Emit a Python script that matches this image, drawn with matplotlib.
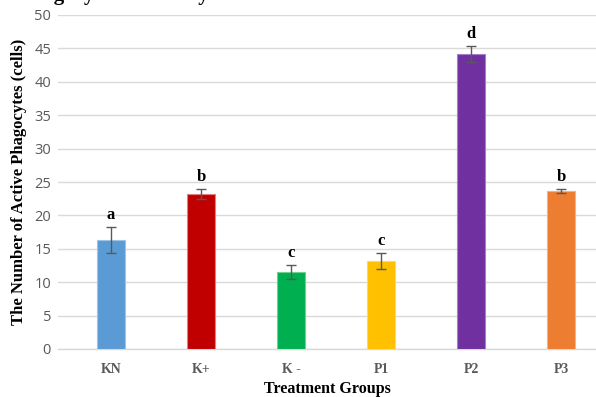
import matplotlib
matplotlib.use("Agg")
import matplotlib.pyplot as plt

groups = ["KN", "K+", "K -", "P1", "P2", "P3"]
values = [16.3, 23.2, 11.5, 13.2, 44.1, 23.7]
errors = [1.9, 0.7, 1.05, 1.2, 1.2, 0.3]
letters = ["a", "b", "c", "c", "d", "b"]
colors = ["#5B9BD5", "#C00000", "#00B050", "#FFC000", "#7030A0", "#ED7D31"]
edges = ["#9DC3E6", "#E08080", "#70D090", "#FFD966", "#A080C8", "#F4B183"]
yticks = [0, 5, 10, 15, 20, 25, 30, 35, 40, 45, 50]

fig = plt.figure(figsize=(5.96, 3.97), dpi=100)
W, H = 596, 397
left, right = 58, 596
y0, y50 = 349, 15
ax = fig.add_axes([left / W, 1 - y0 / H, (right - left) / W, (y0 - y50) / H])

x = list(range(len(groups)))
ax.bar(x, values, width=0.31, color=colors, edgecolor=edges, linewidth=0.8, zorder=3)
ax.errorbar(x, values, yerr=errors, fmt="none", ecolor="#595959", elinewidth=1.0,
            capsize=3.5, capthick=1.0, zorder=4)
for xi, v, e, l in zip(x, values, errors, letters):
    ax.annotate(l, (xi, v + e), xytext=(0, 3), textcoords="offset points",
                ha="center", va="bottom", fontsize=12, fontweight="bold",
                family="Liberation Serif", color="black")

xmin = -(111 - left) / 90
ax.set_xlim(xmin, xmin + (right - left) / 90)
ax.set_ylim(0, 50)
ax.set_yticks(yticks)
ax.yaxis.grid(True, color="#D9D9D9", linewidth=1.0, zorder=0)
ax.set_axisbelow(True)
for s in ["top", "right", "left"]:
    ax.spines[s].set_visible(False)
ax.spines["bottom"].set_color("#D9D9D9")
ax.spines["bottom"].set_linewidth(1.0)
ax.tick_params(axis="both", length=0)
ax.tick_params(axis="y", labelsize=10.5, labelcolor="#595959", pad=5)
for t in ax.get_yticklabels():
    t.set_family("Open Sans")
ax.set_xticks(x)
ax.set_xticklabels(groups, family="Liberation Serif", fontweight="bold",
                   fontsize=10, color="#595959")
ax.tick_params(axis="x", pad=10)

ax.set_ylabel("The Number of Active Phagocytes (cells)", family="Liberation Serif",
              fontweight="bold", fontsize=12, color="black", labelpad=5)
ax.set_xlabel("Treatment Groups", family="Liberation Serif", fontweight="bold",
              fontsize=11.5, color="black", labelpad=4)

fig.text(19 / W, 1 - 0 / H, "Phagocytosis Activity", family="Liberation Serif",
         fontweight="bold", fontsize=15, ha="left", va="baseline")

fig.savefig("out.png", dpi=100)
